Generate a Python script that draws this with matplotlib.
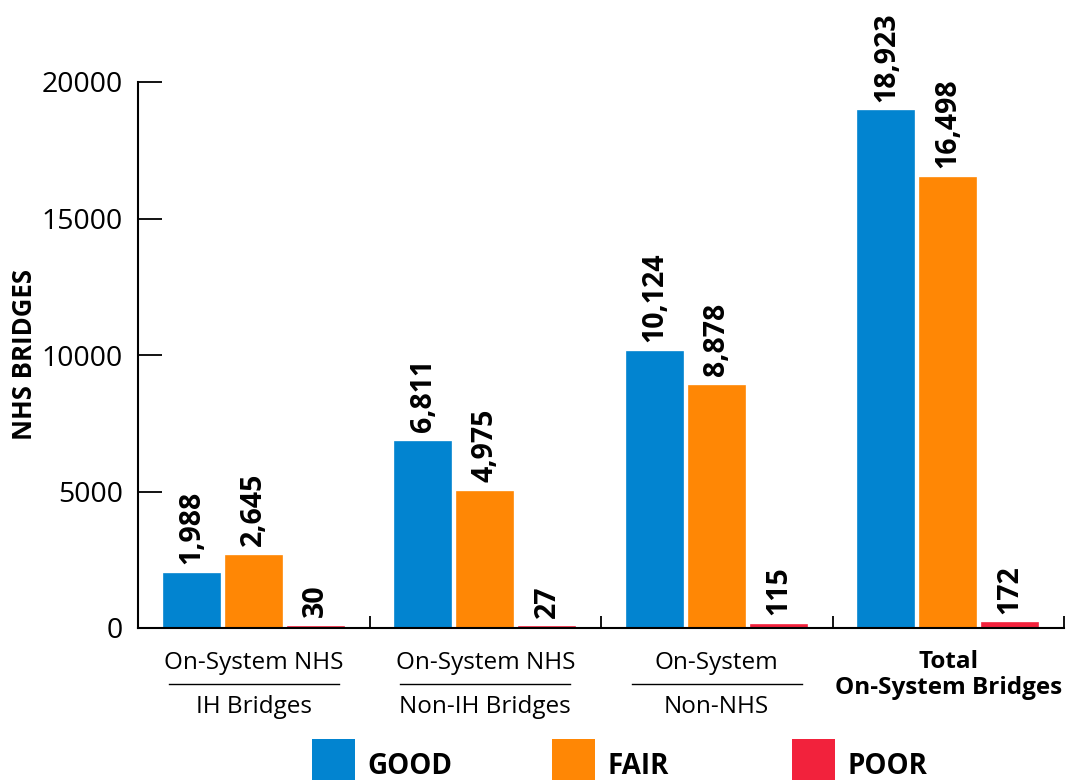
import matplotlib
matplotlib.use("Agg")
import matplotlib.pyplot as plt
from matplotlib.patches import Rectangle
from matplotlib.lines import Line2D
import numpy as np

plt.rcParams['font.family'] = ['Open Sans', 'DejaVu Sans']

groups_line1 = ["On-System NHS", "On-System NHS", "On-System", "Total"]
groups_line2 = ["IH Bridges", "Non-IH Bridges", "Non-NHS", "On-System Bridges"]
series = ["GOOD", "FAIR", "POOR"]
good = [1988, 6811, 10124, 18923]
fair = [2645, 4975, 8878, 16498]
poor = [30, 27, 115, 172]
colors = ["#0284D0", "#FF8705", "#F2223C"]
yticks = [0, 5000, 10000, 15000, 20000]

W, H = 1067, 780
fig = plt.figure(figsize=(W / 100, H / 100), dpi=100)
ax = fig.add_axes([138 / W, 1 - 628 / H, (1064 - 138) / W, 546 / H])

n = len(good)
x = np.arange(n) + 0.5
bw = 0.242
off = 0.267
for vals, col, dx in zip([good, fair, poor], colors, [-off, 0, off]):
    bars = ax.bar(x + dx, vals, width=bw, color=col, edgecolor=col, linewidth=1.2, zorder=2)
    for b, v in zip(bars, vals):
        ax.annotate(f"{v:,}", (b.get_x() + b.get_width() / 2, b.get_height()),
                    xytext=(0, 7), textcoords='offset points', rotation=90,
                    ha='center', va='bottom', fontsize=20.5, fontweight='bold',
                    annotation_clip=False)

ax.set_xlim(0, n)
ax.set_ylim(0, 20000)
ax.set_yticks(yticks)
ax.set_yticklabels([str(t) for t in yticks], fontsize=20.5)
ax.tick_params(axis='y', direction='in', length=17, width=1.3, pad=11)
ax.set_xticks(np.arange(1, n + 1))
ax.set_xticklabels([])
ax.tick_params(axis='x', direction='in', length=9, width=1.3)
for s in ['top', 'right']:
    ax.spines[s].set_visible(False)
for s in ['left', 'bottom']:
    ax.spines[s].set_linewidth(1.5)

ax.set_ylabel("NHS BRIDGES", fontsize=18.5, fontweight='bold')
ax.yaxis.set_label_coords((38 - 138) / (1064 - 138), 0.5)

# group labels
for i in range(n):
    cx = ax.transData.transform((x[i], 0))[0] / W
    if i < n - 1:
        fig.text(cx, 1 - 663 / H, groups_line1[i], ha='center', va='center', fontsize=17.5)
        fig.text(cx, 1 - 707 / H, groups_line2[i], ha='center', va='center', fontsize=17.5)
        fig.add_artist(Line2D([cx - 85 / W, cx + 85 / W], [1 - 684 / H] * 2,
                              color='black', lw=1.0))
    else:
        fig.text(cx, 1 - 662 / H, groups_line1[i], ha='center', va='center',
                 fontsize=17.5, fontweight='bold')
        fig.text(cx, 1 - 688 / H, groups_line2[i], ha='center', va='center',
                 fontsize=17.5, fontweight='bold')

# legend
leg_x = [312, 552, 792]
for lx, col, name in zip(leg_x, colors, series):
    fig.add_artist(Rectangle((lx / W, 1 - 790 / H), 43 / W, 51 / H,
                             facecolor=col, edgecolor='none', transform=fig.transFigure))
    fig.text((lx + 55) / W, 1 - 766 / H, name, ha='left', va='center',
             fontsize=20, fontweight='bold')

fig.savefig("out.png", dpi=100)
